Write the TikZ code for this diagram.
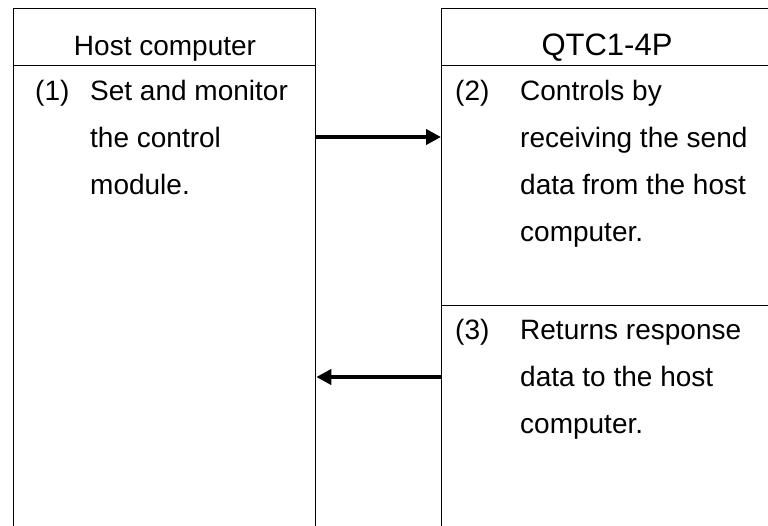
\documentclass[tikz,border=0pt]{standalone}
\usepackage{fontspec}
\setmainfont{Liberation Sans}
\usetikzlibrary{arrows.meta}
\tikzset{
  box/.style={draw=black, line width=1.3pt, rectangle, inner sep=0pt, anchor=north west},
  txt/.style={inner sep=0pt, anchor=base west, font=\fontsize{28}{34}\selectfont},
  head/.style={inner sep=0pt, anchor=base, font=\fontsize{28}{34}\selectfont},
  arr/.style={line width=4pt, -{Triangle[length=15pt,width=15pt]}}
}
\begin{document}
\begin{tikzpicture}[x=1pt,y=-1pt]
\useasboundingbox (0,0) rectangle (768,525);
\clip (0,0) rectangle (768,525);
% left box
\node[box, minimum width=302pt, minimum height=57.5pt] (lhead) at (13,7.5) {};
\node[box, minimum width=302pt, minimum height=475pt] (lbody) at (13,65) {};
% right box
\node[box, minimum width=332pt, minimum height=57.5pt] (rhead) at (441,7.5) {};
\node[box, minimum width=332pt, minimum height=240pt] (rb1) at (441,65) {};
\node[box, minimum width=332pt, minimum height=235pt] (rb2) at (441,305) {};
% headers
\node[head] (lheadtxt) at (165,55) {Host computer};
\node[head, font=\fontsize{31}{36}\selectfont] (rheadtxt) at (607,55) {QTC1-4P};
% left body text
\node[txt] (n1) at (35,100) {(1)};
\node[txt] (l1) at (90,100) {Set and monitor};
\node[txt] (l2) at (90,147) {the control};
\node[txt] (l3) at (90,194) {module.};
% right body 1
\node[txt] (n2) at (455,100) {(2)};
\node[txt] (r1) at (520,100) {Controls by};
\node[txt] (r2) at (520,147) {receiving the send};
\node[txt] (r3) at (520,194) {data from the host};
\node[txt] (r4) at (520,241) {computer.};
% right body 2
\node[txt] (n3) at (455,339) {(3)};
\node[txt] (s1) at (520,339) {Returns response};
\node[txt] (s2) at (520,386) {data to the host};
\node[txt] (s3) at (520,433) {computer.};
% arrows
\coordinate (ya) at (0,137);
\coordinate (yb) at (0,377);
\draw[arr] (lbody.east |- ya) -- (rb1.west |- ya);
\draw[arr] (rb2.west |- yb) -- (lbody.east |- yb);
\end{tikzpicture}
\end{document}
